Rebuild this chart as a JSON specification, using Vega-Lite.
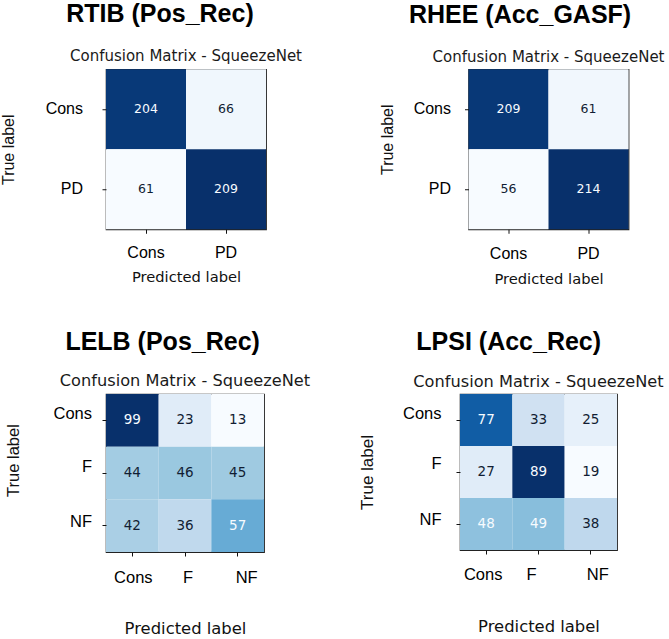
{
  "$schema": "https://vega.github.io/schema/vega-lite/v6.json",
  "background": "white",
  "padding": {"left": 0, "top": 1.25, "right": 0, "bottom": 0},
  "config": {
    "view": {"stroke": "#222", "strokeWidth": 1.2},
    "axis": {"grid": false, "domain": false, "tickColor": "#111", "tickWidth": 1, "tickSize": 4, "labelAngle": 0, "labelColor": "#000", "titleColor": "#111", "titleFontWeight": "normal"}
  },
  "resolve": {"scale": {"color": "independent", "x": "independent", "y": "independent"}},
  "spacing": 42.75,
  "vconcat": [
    {
      "spacing": 75.5,
      "resolve": {"scale": {"color": "independent", "x": "independent", "y": "independent"}},
      "hconcat": [
        {
          "title": {"text": "RTIB (Pos_Rec)", "font": "Liberation Sans", "fontSize": 25, "fontWeight": "bold", "color": "#000", "anchor": "middle", "frame": "bounds", "dx": 8.5, "offset": 21.9},
          "vconcat": [
            {
              "width": 160, "height": 160,
              "title": {"text": "Confusion Matrix - SqueezeNet", "font": "DejaVu Sans", "fontSize": 15, "fontWeight": "normal", "color": "#1a1a1a", "offset": 4.85},
              "data": {"values": [
                {"t": "Cons", "p": "Cons", "v": 204}, {"t": "Cons", "p": "PD", "v": 66},
                {"t": "PD", "p": "Cons", "v": 61}, {"t": "PD", "p": "PD", "v": 209}
              ]},
              "encoding": {
                "x": {"field": "p", "type": "nominal", "sort": ["Cons", "PD"], "axis": {"title": "Predicted label", "labelFont": "Liberation Sans", "labelFontSize": 16, "labelPadding": 10.8, "titleFont": "DejaVu Sans", "titleFontSize": 14.7, "titlePadding": 9.7}},
                "y": {"field": "t", "type": "nominal", "sort": ["Cons", "PD"], "axis": {"title": "True label", "labelFont": "Liberation Sans", "labelFontSize": 16, "labelPadding": 19.5, "titleFont": "Liberation Sans", "titleFontSize": 16, "titlePadding": 28.2}}
              },
              "layer": [
                {"mark": {"type": "rect"}, "encoding": {"color": {"field": "v", "type": "quantitative", "scale": {"type": "linear", "domain": [61, 79.5, 98, 116.5, 135, 153.5, 172, 190.5, 209], "range": ["#f7fbff", "#deebf7", "#c6dbef", "#9ecae1", "#6baed6", "#4292c6", "#2171b5", "#08519c", "#08306b"], "interpolate": "rgb"}, "legend": null}}},
                {"mark": {"type": "text", "font": "DejaVu Sans", "fontSize": 12.5}, "encoding": {"text": {"field": "v", "type": "quantitative"}, "color": {"condition": {"test": "datum.v > 135", "value": "#f7fbff"}, "value": "#111d33"}}}
              ]
            }
          ]
        },
        {
          "title": {"text": "RHEE (Acc_GASF)", "font": "Liberation Sans", "fontSize": 25, "fontWeight": "bold", "color": "#000", "anchor": "middle", "frame": "bounds", "dx": -2, "offset": 21.9},
          "vconcat": [
            {
              "width": 160, "height": 160,
              "title": {"text": "Confusion Matrix - SqueezeNet", "font": "DejaVu Sans", "fontSize": 15, "fontWeight": "normal", "color": "#1a1a1a", "offset": 3.85},
              "data": {"values": [
                {"t": "Cons", "p": "Cons", "v": 209}, {"t": "Cons", "p": "PD", "v": 61},
                {"t": "PD", "p": "Cons", "v": 56}, {"t": "PD", "p": "PD", "v": 214}
              ]},
              "encoding": {
                "x": {"field": "p", "type": "nominal", "sort": ["Cons", "PD"], "axis": {"title": "Predicted label", "labelFont": "Liberation Sans", "labelFontSize": 16, "labelPadding": 12.3, "titleFont": "DejaVu Sans", "titleFontSize": 14.7, "titlePadding": 9.7}},
                "y": {"field": "t", "type": "nominal", "sort": ["Cons", "PD"], "axis": {"title": "True label", "labelFont": "Liberation Sans", "labelFontSize": 16, "labelPadding": 14, "titleFont": "Liberation Sans", "titleFontSize": 16, "titlePadding": 17.6, "titleY": 70}}
              },
              "layer": [
                {"mark": {"type": "rect"}, "encoding": {"color": {"field": "v", "type": "quantitative", "scale": {"type": "linear", "domain": [56, 75.75, 95.5, 115.25, 135, 154.75, 174.5, 194.25, 214], "range": ["#f7fbff", "#deebf7", "#c6dbef", "#9ecae1", "#6baed6", "#4292c6", "#2171b5", "#08519c", "#08306b"], "interpolate": "rgb"}, "legend": null}}},
                {"mark": {"type": "text", "font": "DejaVu Sans", "fontSize": 12.5}, "encoding": {"text": {"field": "v", "type": "quantitative"}, "color": {"condition": {"test": "datum.v > 135", "value": "#f7fbff"}, "value": "#111d33"}}}
              ]
            }
          ]
        }
      ]
    },
    {
      "spacing": 47,
      "resolve": {"scale": {"color": "independent", "x": "independent", "y": "independent"}},
      "hconcat": [
        {
          "title": {"text": "LELB (Pos_Rec)", "font": "Liberation Sans", "fontSize": 25, "fontWeight": "bold", "color": "#000", "anchor": "middle", "frame": "bounds", "dx": 5, "offset": 17.45},
          "vconcat": [
            {
              "width": 158, "height": 158,
              "title": {"text": "Confusion Matrix - SqueezeNet", "font": "DejaVu Sans", "fontSize": 16.2, "fontWeight": "normal", "color": "#1a1a1a", "offset": 4.6},
              "data": {"values": [
                {"t": "Cons", "p": "Cons", "v": 99}, {"t": "Cons", "p": "F", "v": 23}, {"t": "Cons", "p": "NF", "v": 13},
                {"t": "F", "p": "Cons", "v": 44}, {"t": "F", "p": "F", "v": 46}, {"t": "F", "p": "NF", "v": 45},
                {"t": "NF", "p": "Cons", "v": 42}, {"t": "NF", "p": "F", "v": 36}, {"t": "NF", "p": "NF", "v": 57}
              ]},
              "encoding": {
                "x": {"field": "p", "type": "nominal", "sort": ["Cons", "F", "NF"], "axis": {"title": "Predicted label", "labelFont": "Liberation Sans", "labelFontSize": 16.5, "labelPadding": 13.8, "labelOffset": {"expr": "datum.value === 'NF' ? 9 : datum.value === 'F' ? 3 : 1"}, "titleFont": "DejaVu Sans", "titleFontSize": 16.4, "titlePadding": 34}},
                "y": {"field": "t", "type": "nominal", "sort": ["Cons", "F", "NF"], "axis": {"title": "True label", "labelFont": "Liberation Sans", "labelFontSize": 16.5, "labelPadding": 10.5, "labelOffset": {"expr": "datum.value === 'NF' ? -3.5 : -6"}, "titleFont": "Liberation Sans", "titleFontSize": 16.5, "titlePadding": 31.9, "titleY": 66}}
              },
              "layer": [
                {"mark": {"type": "rect"}, "encoding": {"color": {"field": "v", "type": "quantitative", "scale": {"type": "linear", "domain": [13, 23.75, 34.5, 45.25, 56, 66.75, 77.5, 88.25, 99], "range": ["#f7fbff", "#deebf7", "#c6dbef", "#9ecae1", "#6baed6", "#4292c6", "#2171b5", "#08519c", "#08306b"], "interpolate": "rgb"}, "legend": null}}},
                {"mark": {"type": "text", "font": "DejaVu Sans", "fontSize": 13.5}, "encoding": {"text": {"field": "v", "type": "quantitative"}, "color": {"condition": {"test": "datum.v > 50", "value": "#f7fbff"}, "value": "#111d33"}}}
              ]
            }
          ]
        },
        {
          "title": {"text": "LPSI (Acc_Rec)", "font": "Liberation Sans", "fontSize": 25, "fontWeight": "bold", "color": "#000", "anchor": "middle", "frame": "bounds", "dx": -2.5, "offset": 18.45},
          "vconcat": [
            {
              "width": 157, "height": 156,
              "title": {"text": "Confusion Matrix - SqueezeNet", "font": "DejaVu Sans", "fontSize": 16.2, "fontWeight": "normal", "color": "#1a1a1a", "offset": 3.6},
              "data": {"values": [
                {"t": "Cons", "p": "Cons", "v": 77}, {"t": "Cons", "p": "F", "v": 33}, {"t": "Cons", "p": "NF", "v": 25},
                {"t": "F", "p": "Cons", "v": 27}, {"t": "F", "p": "F", "v": 89}, {"t": "F", "p": "NF", "v": 19},
                {"t": "NF", "p": "Cons", "v": 48}, {"t": "NF", "p": "F", "v": 49}, {"t": "NF", "p": "NF", "v": 38}
              ]},
              "encoding": {
                "x": {"field": "p", "type": "nominal", "sort": ["Cons", "F", "NF"], "axis": {"title": "Predicted label", "labelFont": "Liberation Sans", "labelFontSize": 16.5, "labelPadding": 12.8, "labelOffset": {"expr": "datum.value === 'NF' ? 7 : datum.value === 'F' ? -7 : -3"}, "titleFont": "DejaVu Sans", "titleFontSize": 16.4, "titlePadding": 35}},
                "y": {"field": "t", "type": "nominal", "sort": ["Cons", "F", "NF"], "axis": {"title": "True label", "labelFont": "Liberation Sans", "labelFontSize": 16.5, "labelPadding": 15, "labelOffset": {"expr": "datum.value === 'F' ? -8 : datum.value === 'NF' ? -4 : -6"}, "titleFont": "Liberation Sans", "titleFontSize": 17, "titlePadding": 25.8}}
              },
              "layer": [
                {"mark": {"type": "rect"}, "encoding": {"color": {"field": "v", "type": "quantitative", "scale": {"type": "linear", "domain": [19, 27.75, 36.5, 45.25, 54, 62.75, 71.5, 80.25, 89], "range": ["#f7fbff", "#deebf7", "#c6dbef", "#9ecae1", "#6baed6", "#4292c6", "#2171b5", "#08519c", "#08306b"], "interpolate": "rgb"}, "legend": null}}},
                {"mark": {"type": "text", "font": "DejaVu Sans", "fontSize": 13.5}, "encoding": {"text": {"field": "v", "type": "quantitative"}, "color": {"condition": {"test": "datum.v > 40", "value": "#f7fbff"}, "value": "#111d33"}}}
              ]
            }
          ]
        }
      ]
    }
  ]
}
